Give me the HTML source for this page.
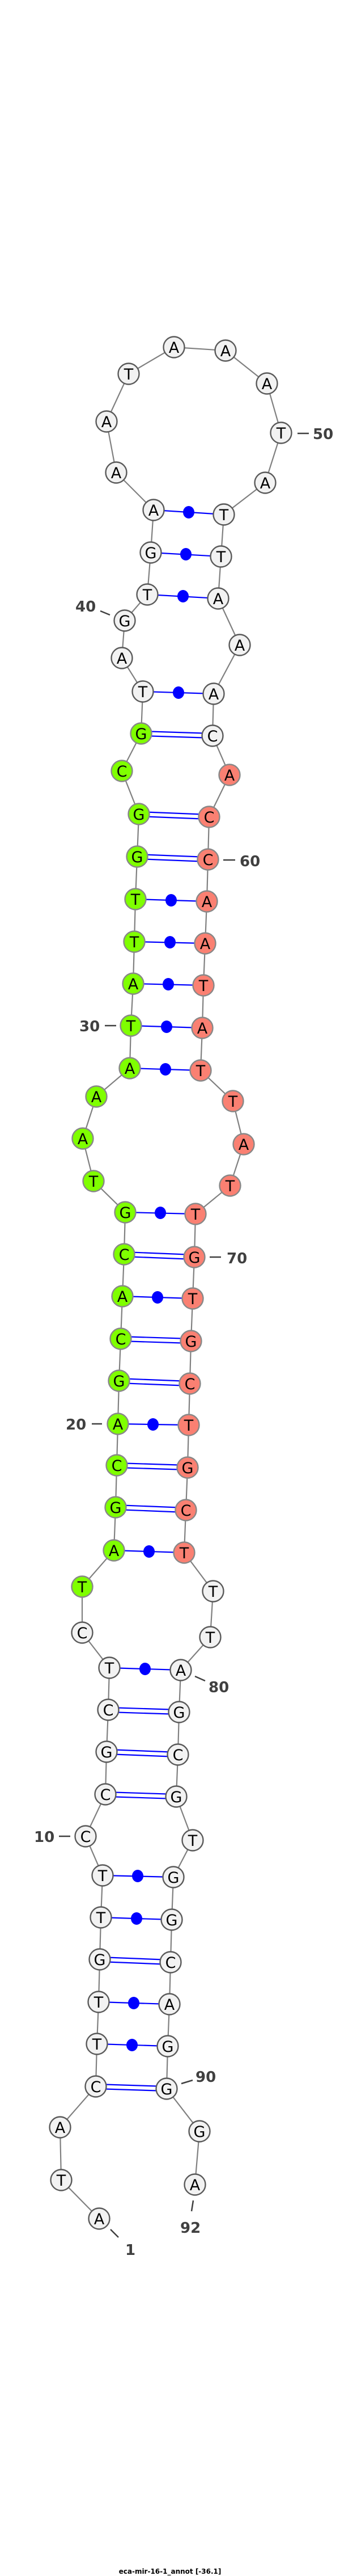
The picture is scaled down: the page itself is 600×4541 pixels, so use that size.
<!DOCTYPE html>
<html><head><meta charset="utf-8"><style>
html,body{margin:0;padding:0;background:#fff;}
svg{display:block;}
.bb{fill:none;stroke:#808080;stroke-width:2.2;}
.p{stroke:#0000ff;stroke-width:2.2;}
.w{fill:#f2f2f2;stroke:#5a5a5a;stroke-width:2.4;}
.g{fill:#7fff00;stroke:#888;stroke-width:2.4;}
.r{fill:#fa8072;stroke:#888;stroke-width:2.4;}
.t{font-family:"DejaVu Sans","Liberation Sans",sans-serif;font-size:27px;text-anchor:middle;fill:#000;}
.l{font-family:"DejaVu Sans","Liberation Sans",sans-serif;font-size:26px;font-weight:bold;fill:#404040;}
.d{stroke:#404040;stroke-width:2.5;}
</style></head><body>
<svg width="600" height="4541" viewBox="0 0 600 4541" xmlns="http://www.w3.org/2000/svg">
<polyline class="bb" points="175,3911 108,3843 106,3750 169,3678 171,3603 174,3529 176,3454 178,3380 181,3306 151,3237 186,3163 188,3088 191,3014 193,2940 145,2878 145,2797 201,2733 204,2657 206,2583 208,2510 210,2434 213,2360 216,2285 219,2211 221,2137 165,2082 146,2007 170,1933 229,1883 231,1808 235,1734 237,1660 239,1585 242,1510 245,1435 215,1359 249,1293 252,1219 215,1160 220,1094 260,1048 266,974 271,899 205,833 188,743 227,659 307,612 398,618 471,676 496,763 468,851 395,907 390,981 385,1055 423,1137 377,1223 375,1297 405,1366 369,1440 367,1515 365,1589 362,1663 359,1737 357,1812 354,1887 411,1941 430,2017 406,2090 345,2140 343,2216 340,2289 337,2364 335,2439 333,2512 331,2587 328,2662 325,2737 376,2805 371,2886 319,2944 316,3018 314,3093 311,3167 340,3244 306,3309 303,3384 301,3459 299,3533 296,3607 294,3682 352,3757 344,3851"/>
<g class="p">
<line x1="271" y1="899" x2="395" y2="907"/><line x1="266" y1="974" x2="390" y2="981"/><line x1="260" y1="1048" x2="385" y2="1055"/>
<line x1="252" y1="1219" x2="377" y2="1223"/>
<line x1="249" y1="1289" x2="375" y2="1293"/><line x1="249" y1="1297" x2="375" y2="1301"/>
<line x1="245" y1="1431" x2="369" y2="1436"/><line x1="245" y1="1439" x2="369" y2="1444"/>
<line x1="242" y1="1506" x2="367" y2="1511"/><line x1="242" y1="1514" x2="367" y2="1519"/>
<line x1="239" y1="1585" x2="365" y2="1589"/><line x1="237" y1="1660" x2="362" y2="1663"/><line x1="235" y1="1734" x2="359" y2="1737"/><line x1="231" y1="1808" x2="357" y2="1812"/><line x1="229" y1="1883" x2="354" y2="1887"/>
<line x1="221" y1="2137" x2="345" y2="2140"/>
<line x1="219" y1="2207" x2="343" y2="2212"/><line x1="219" y1="2215" x2="343" y2="2220"/>
<line x1="216" y1="2285" x2="340" y2="2289"/>
<line x1="213" y1="2356" x2="337" y2="2360"/><line x1="213" y1="2364" x2="337" y2="2368"/>
<line x1="210" y1="2430" x2="335" y2="2435"/><line x1="210" y1="2438" x2="335" y2="2443"/>
<line x1="208" y1="2510" x2="333" y2="2512"/>
<line x1="206" y1="2579" x2="331" y2="2583"/><line x1="206" y1="2587" x2="331" y2="2591"/>
<line x1="204" y1="2653" x2="328" y2="2658"/><line x1="204" y1="2661" x2="328" y2="2666"/>
<line x1="201" y1="2733" x2="325" y2="2737"/>
<line x1="193" y1="2940" x2="319" y2="2944"/>
<line x1="191" y1="3010" x2="316" y2="3014"/><line x1="191" y1="3018" x2="316" y2="3022"/>
<line x1="188" y1="3084" x2="314" y2="3089"/><line x1="188" y1="3092" x2="314" y2="3097"/>
<line x1="186" y1="3159" x2="311" y2="3163"/><line x1="186" y1="3167" x2="311" y2="3171"/>
<line x1="181" y1="3306" x2="306" y2="3309"/><line x1="178" y1="3380" x2="303" y2="3384"/>
<line x1="176" y1="3450" x2="301" y2="3455"/><line x1="176" y1="3458" x2="301" y2="3463"/>
<line x1="174" y1="3529" x2="299" y2="3533"/><line x1="171" y1="3603" x2="296" y2="3607"/>
<line x1="169" y1="3674" x2="294" y2="3678"/><line x1="169" y1="3682" x2="294" y2="3686"/>
</g>
<g fill="#0000ff">
<ellipse cx="333" cy="903" rx="10" ry="11"/><ellipse cx="328" cy="977" rx="10" ry="11"/><ellipse cx="323" cy="1051" rx="10" ry="11"/>
<ellipse cx="315" cy="1221" rx="10" ry="11"/>
<ellipse cx="302" cy="1587" rx="10" ry="11"/><ellipse cx="300" cy="1661" rx="10" ry="11"/><ellipse cx="297" cy="1735" rx="10" ry="11"/><ellipse cx="294" cy="1810" rx="10" ry="11"/><ellipse cx="292" cy="1885" rx="10" ry="11"/>
<ellipse cx="283" cy="2138" rx="10" ry="11"/><ellipse cx="278" cy="2287" rx="10" ry="11"/><ellipse cx="270" cy="2511" rx="10" ry="11"/><ellipse cx="263" cy="2735" rx="10" ry="11"/>
<ellipse cx="256" cy="2942" rx="10" ry="11"/>
<ellipse cx="243" cy="3307" rx="10" ry="11"/><ellipse cx="241" cy="3382" rx="10" ry="11"/><ellipse cx="236" cy="3531" rx="10" ry="11"/><ellipse cx="233" cy="3605" rx="10" ry="11"/>
</g>
<g>
<circle class="w" cx="175" cy="3911" r="18.5"/><text class="t" x="175" y="3921">A</text>
<circle class="w" cx="108" cy="3843" r="18.5"/><text class="t" x="108" y="3853">T</text>
<circle class="w" cx="106" cy="3750" r="18.5"/><text class="t" x="106" y="3760">A</text>
<circle class="w" cx="169" cy="3678" r="18.5"/><text class="t" x="169" y="3688">C</text>
<circle class="w" cx="171" cy="3603" r="18.5"/><text class="t" x="171" y="3613">T</text>
<circle class="w" cx="174" cy="3529" r="18.5"/><text class="t" x="174" y="3539">T</text>
<circle class="w" cx="176" cy="3454" r="18.5"/><text class="t" x="176" y="3464">G</text>
<circle class="w" cx="178" cy="3380" r="18.5"/><text class="t" x="178" y="3390">T</text>
<circle class="w" cx="181" cy="3306" r="18.5"/><text class="t" x="181" y="3316">T</text>
<circle class="w" cx="151" cy="3237" r="18.5"/><text class="t" x="151" y="3247">C</text>
<circle class="w" cx="186" cy="3163" r="18.5"/><text class="t" x="186" y="3173">C</text>
<circle class="w" cx="188" cy="3088" r="18.5"/><text class="t" x="188" y="3098">G</text>
<circle class="w" cx="191" cy="3014" r="18.5"/><text class="t" x="191" y="3024">C</text>
<circle class="w" cx="193" cy="2940" r="18.5"/><text class="t" x="193" y="2950">T</text>
<circle class="w" cx="145" cy="2878" r="18.5"/><text class="t" x="145" y="2888">C</text>
<circle class="g" cx="145" cy="2797" r="18.5"/><text class="t" x="145" y="2807">T</text>
<circle class="g" cx="201" cy="2733" r="18.5"/><text class="t" x="201" y="2743">A</text>
<circle class="g" cx="204" cy="2657" r="18.5"/><text class="t" x="204" y="2667">G</text>
<circle class="g" cx="206" cy="2583" r="18.5"/><text class="t" x="206" y="2593">C</text>
<circle class="g" cx="208" cy="2510" r="18.5"/><text class="t" x="208" y="2520">A</text>
<circle class="g" cx="210" cy="2434" r="18.5"/><text class="t" x="210" y="2444">G</text>
<circle class="g" cx="213" cy="2360" r="18.5"/><text class="t" x="213" y="2370">C</text>
<circle class="g" cx="216" cy="2285" r="18.5"/><text class="t" x="216" y="2295">A</text>
<circle class="g" cx="219" cy="2211" r="18.5"/><text class="t" x="219" y="2221">C</text>
<circle class="g" cx="221" cy="2137" r="18.5"/><text class="t" x="221" y="2147">G</text>
<circle class="g" cx="165" cy="2082" r="18.5"/><text class="t" x="165" y="2092">T</text>
<circle class="g" cx="146" cy="2007" r="18.5"/><text class="t" x="146" y="2017">A</text>
<circle class="g" cx="170" cy="1933" r="18.5"/><text class="t" x="170" y="1943">A</text>
<circle class="g" cx="229" cy="1883" r="18.5"/><text class="t" x="229" y="1893">A</text>
<circle class="g" cx="231" cy="1808" r="18.5"/><text class="t" x="231" y="1818">T</text>
<circle class="g" cx="235" cy="1734" r="18.5"/><text class="t" x="235" y="1744">A</text>
<circle class="g" cx="237" cy="1660" r="18.5"/><text class="t" x="237" y="1670">T</text>
<circle class="g" cx="239" cy="1585" r="18.5"/><text class="t" x="239" y="1595">T</text>
<circle class="g" cx="242" cy="1510" r="18.5"/><text class="t" x="242" y="1520">G</text>
<circle class="g" cx="245" cy="1435" r="18.5"/><text class="t" x="245" y="1445">G</text>
<circle class="g" cx="215" cy="1359" r="18.5"/><text class="t" x="215" y="1369">C</text>
<circle class="g" cx="249" cy="1293" r="18.5"/><text class="t" x="249" y="1303">G</text>
<circle class="w" cx="252" cy="1219" r="18.5"/><text class="t" x="252" y="1229">T</text>
<circle class="w" cx="215" cy="1160" r="18.5"/><text class="t" x="215" y="1170">A</text>
<circle class="w" cx="220" cy="1094" r="18.5"/><text class="t" x="220" y="1104">G</text>
<circle class="w" cx="260" cy="1048" r="18.5"/><text class="t" x="260" y="1058">T</text>
<circle class="w" cx="266" cy="974" r="18.5"/><text class="t" x="266" y="984">G</text>
<circle class="w" cx="271" cy="899" r="18.5"/><text class="t" x="271" y="909">A</text>
<circle class="w" cx="205" cy="833" r="18.5"/><text class="t" x="205" y="843">A</text>
<circle class="w" cx="188" cy="743" r="18.5"/><text class="t" x="188" y="753">A</text>
<circle class="w" cx="227" cy="659" r="18.5"/><text class="t" x="227" y="669">T</text>
<circle class="w" cx="307" cy="612" r="18.5"/><text class="t" x="307" y="622">A</text>
<circle class="w" cx="398" cy="618" r="18.5"/><text class="t" x="398" y="628">A</text>
<circle class="w" cx="471" cy="676" r="18.5"/><text class="t" x="471" y="686">A</text>
<circle class="w" cx="496" cy="763" r="18.5"/><text class="t" x="496" y="773">T</text>
<circle class="w" cx="468" cy="851" r="18.5"/><text class="t" x="468" y="861">A</text>
<circle class="w" cx="395" cy="907" r="18.5"/><text class="t" x="395" y="917">T</text>
<circle class="w" cx="390" cy="981" r="18.5"/><text class="t" x="390" y="991">T</text>
<circle class="w" cx="385" cy="1055" r="18.5"/><text class="t" x="385" y="1065">A</text>
<circle class="w" cx="423" cy="1137" r="18.5"/><text class="t" x="423" y="1147">A</text>
<circle class="w" cx="377" cy="1223" r="18.5"/><text class="t" x="377" y="1233">A</text>
<circle class="w" cx="375" cy="1297" r="18.5"/><text class="t" x="375" y="1307">C</text>
<circle class="r" cx="405" cy="1366" r="18.5"/><text class="t" x="405" y="1376">A</text>
<circle class="r" cx="369" cy="1440" r="18.5"/><text class="t" x="369" y="1450">C</text>
<circle class="r" cx="367" cy="1515" r="18.5"/><text class="t" x="367" y="1525">C</text>
<circle class="r" cx="365" cy="1589" r="18.5"/><text class="t" x="365" y="1599">A</text>
<circle class="r" cx="362" cy="1663" r="18.5"/><text class="t" x="362" y="1673">A</text>
<circle class="r" cx="359" cy="1737" r="18.5"/><text class="t" x="359" y="1747">T</text>
<circle class="r" cx="357" cy="1812" r="18.5"/><text class="t" x="357" y="1822">A</text>
<circle class="r" cx="354" cy="1887" r="18.5"/><text class="t" x="354" y="1897">T</text>
<circle class="r" cx="411" cy="1941" r="18.5"/><text class="t" x="411" y="1951">T</text>
<circle class="r" cx="430" cy="2017" r="18.5"/><text class="t" x="430" y="2027">A</text>
<circle class="r" cx="406" cy="2090" r="18.5"/><text class="t" x="406" y="2100">T</text>
<circle class="r" cx="345" cy="2140" r="18.5"/><text class="t" x="345" y="2150">T</text>
<circle class="r" cx="343" cy="2216" r="18.5"/><text class="t" x="343" y="2226">G</text>
<circle class="r" cx="340" cy="2289" r="18.5"/><text class="t" x="340" y="2299">T</text>
<circle class="r" cx="337" cy="2364" r="18.5"/><text class="t" x="337" y="2374">G</text>
<circle class="r" cx="335" cy="2439" r="18.5"/><text class="t" x="335" y="2449">C</text>
<circle class="r" cx="333" cy="2512" r="18.5"/><text class="t" x="333" y="2522">T</text>
<circle class="r" cx="331" cy="2587" r="18.5"/><text class="t" x="331" y="2597">G</text>
<circle class="r" cx="328" cy="2662" r="18.5"/><text class="t" x="328" y="2672">C</text>
<circle class="r" cx="325" cy="2737" r="18.5"/><text class="t" x="325" y="2747">T</text>
<circle class="w" cx="376" cy="2805" r="18.5"/><text class="t" x="376" y="2815">T</text>
<circle class="w" cx="371" cy="2886" r="18.5"/><text class="t" x="371" y="2896">T</text>
<circle class="w" cx="319" cy="2944" r="18.5"/><text class="t" x="319" y="2954">A</text>
<circle class="w" cx="316" cy="3018" r="18.5"/><text class="t" x="316" y="3028">G</text>
<circle class="w" cx="314" cy="3093" r="18.5"/><text class="t" x="314" y="3103">C</text>
<circle class="w" cx="311" cy="3167" r="18.5"/><text class="t" x="311" y="3177">G</text>
<circle class="w" cx="340" cy="3244" r="18.5"/><text class="t" x="340" y="3254">T</text>
<circle class="w" cx="306" cy="3309" r="18.5"/><text class="t" x="306" y="3319">G</text>
<circle class="w" cx="303" cy="3384" r="18.5"/><text class="t" x="303" y="3394">G</text>
<circle class="w" cx="301" cy="3459" r="18.5"/><text class="t" x="301" y="3469">C</text>
<circle class="w" cx="299" cy="3533" r="18.5"/><text class="t" x="299" y="3543">A</text>
<circle class="w" cx="296" cy="3607" r="18.5"/><text class="t" x="296" y="3617">G</text>
<circle class="w" cx="294" cy="3682" r="18.5"/><text class="t" x="294" y="3692">G</text>
<circle class="w" cx="352" cy="3757" r="18.5"/><text class="t" x="352" y="3767">G</text>
<circle class="w" cx="344" cy="3851" r="18.5"/><text class="t" x="344" y="3861">A</text>
</g>
<g>
<line class="d" x1="195" y1="3930" x2="209" y2="3944"/><text class="l" x="221" y="3975">1</text>
<line class="d" x1="104" y1="3237" x2="124" y2="3237"/><text class="l" x="60" y="3247">10</text>
<line class="d" x1="162" y1="2510" x2="180" y2="2510"/><text class="l" x="116" y="2520">20</text>
<line class="d" x1="185" y1="1808" x2="205" y2="1808"/><text class="l" x="140" y="1818">30</text>
<line class="d" x1="177" y1="1077" x2="194" y2="1084"/><text class="l" x="133" y="1078">40</text>
<line class="d" x1="525" y1="764" x2="545" y2="764"/><text class="l" x="552" y="774">50</text>
<line class="d" x1="394" y1="1516" x2="415" y2="1516"/><text class="l" x="423" y="1527">60</text>
<line class="d" x1="370" y1="2216" x2="390" y2="2216"/><text class="l" x="400" y="2227">70</text>
<line class="d" x1="344" y1="2955" x2="362" y2="2963"/><text class="l" x="368" y="2983">80</text>
<line class="d" x1="320" y1="3673" x2="340" y2="3667"/><text class="l" x="345" y="3670">90</text>
<line class="d" x1="341" y1="3879" x2="338" y2="3898"/><text class="l" x="318" y="3936">92</text>
</g>
<text x="300" y="4537" text-anchor="middle" font-family="DejaVu Sans, Liberation Sans, sans-serif" font-size="12" font-weight="bold" fill="#000">eca-mir-16-1_annot [-36.1]</text>
</svg>
</body></html>
